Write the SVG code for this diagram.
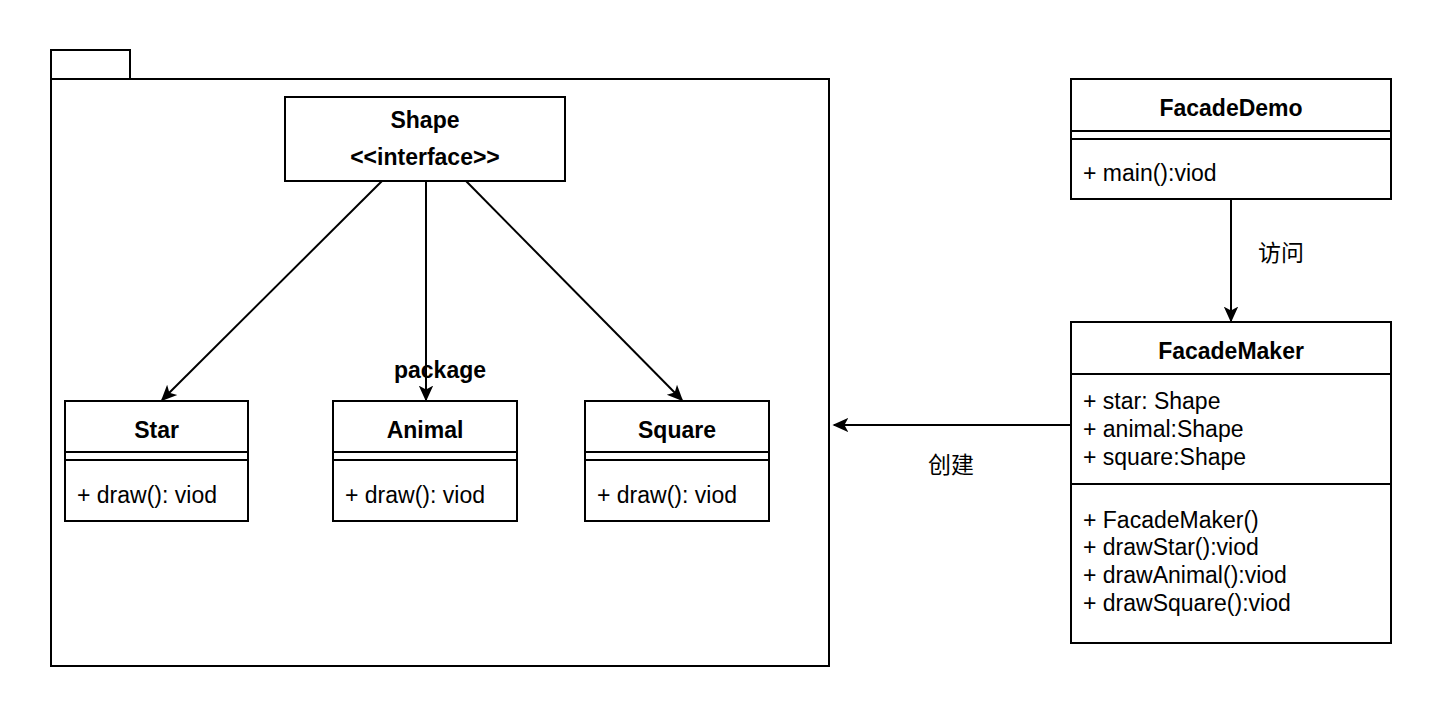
<svg xmlns="http://www.w3.org/2000/svg" width="1442" height="718" viewBox="0 0 1442 718">
<style>
.box{fill:#fff;stroke:#000;stroke-width:2}
.ln{stroke:#000;stroke-width:2;fill:none}
.t{font-family:"Liberation Sans",Arial,sans-serif;font-size:23px;fill:#000}
.b{font-weight:bold;text-anchor:middle}
.cjk{font-family:"Liberation Sans","Noto Sans CJK SC",sans-serif;font-size:23px;fill:#000}
.edge{stroke:#000;stroke-width:2;fill:none;marker-end:url(#arr)}
</style>
<defs>
<marker id="arr" viewBox="0 0 20 20" refX="18" refY="10" markerWidth="16" markerHeight="16" markerUnits="userSpaceOnUse" orient="auto">
<path d="M0,1 L20,10 L0,19 L5,10 Z" fill="#000"/>
</marker>
</defs>
<rect width="1442" height="718" fill="#fff"/>

<g id="package">
<rect class="box" x="51" y="50" width="79" height="29"/>
<rect class="box" x="51" y="79" width="778" height="587"/>
</g>

<g id="shape">
<rect class="box" x="285" y="97" width="280" height="84"/>
<text class="t b" x="425" y="128">Shape</text>
<text class="t b" x="425" y="165">&lt;&lt;interface&gt;&gt;</text>
</g>

<g id="star">
<rect class="box" x="65" y="401" width="183" height="120"/>
<line class="ln" x1="65" y1="452" x2="248" y2="452"/>
<line class="ln" x1="65" y1="460" x2="248" y2="460"/>
<text class="t b" x="156.5" y="438">Star</text>
<text class="t" x="77" y="503">+ draw(): viod</text>
</g>

<g id="animal">
<rect class="box" x="333" y="401" width="184" height="120"/>
<line class="ln" x1="333" y1="452" x2="517" y2="452"/>
<line class="ln" x1="333" y1="460" x2="517" y2="460"/>
<text class="t b" x="425" y="438">Animal</text>
<text class="t" x="345" y="503">+ draw(): viod</text>
</g>

<g id="square">
<rect class="box" x="585" y="401" width="184" height="120"/>
<line class="ln" x1="585" y1="452" x2="769" y2="452"/>
<line class="ln" x1="585" y1="460" x2="769" y2="460"/>
<text class="t b" x="677" y="438">Square</text>
<text class="t" x="597" y="503">+ draw(): viod</text>
</g>

<g id="facadedemo">
<rect class="box" x="1071" y="79" width="320" height="120"/>
<line class="ln" x1="1071" y1="131" x2="1391" y2="131"/>
<line class="ln" x1="1071" y1="139" x2="1391" y2="139"/>
<text class="t b" x="1231" y="116">FacadeDemo</text>
<text class="t" x="1083" y="181">+ main():viod</text>
</g>

<g id="facademaker">
<rect class="box" x="1071" y="322" width="320" height="321"/>
<line class="ln" x1="1071" y1="374" x2="1391" y2="374"/>
<line class="ln" x1="1071" y1="484" x2="1391" y2="484"/>
<text class="t b" x="1231" y="359">FacadeMaker</text>
<text class="t" x="1083" y="409">+ star: Shape</text>
<text class="t" x="1083" y="437">+ animal:Shape</text>
<text class="t" x="1083" y="465">+ square:Shape</text>
<text class="t" x="1083" y="528">+ FacadeMaker()</text>
<text class="t" x="1083" y="555">+ drawStar():viod</text>
<text class="t" x="1083" y="583">+ drawAnimal():viod</text>
<text class="t" x="1083" y="611">+ drawSquare():viod</text>
</g>

<g id="connectors">
<line class="edge" x1="382" y1="181" x2="162" y2="400"/>
<line class="edge" x1="426" y1="181" x2="426" y2="400"/>
<line class="edge" x1="466" y1="181" x2="682" y2="400"/>
<line class="edge" x1="1231" y1="199" x2="1231" y2="321"/>
<line class="edge" x1="1071" y1="425" x2="834" y2="425"/>
<text class="cjk" x="1258" y="261">访问</text>
<text class="cjk" x="928" y="473">创建</text>
<text class="t b" x="440" y="378">package</text>
</g>
</svg>
